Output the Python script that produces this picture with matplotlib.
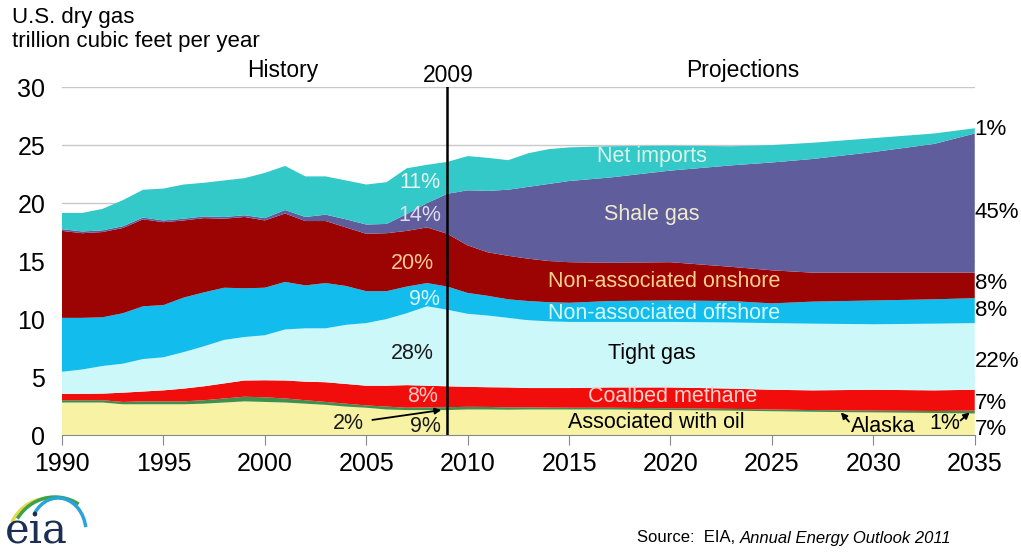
import numpy as np
import matplotlib
matplotlib.use("Agg")
import matplotlib.pyplot as plt
from matplotlib.patches import Arc

plt.rcParams['font.family'] = ['Liberation Sans', 'DejaVu Sans']

# ---------------- data (trillion cubic feet per year) ----------------
years = [1990, 1991, 1992, 1993, 1994, 1995, 1996, 1997, 1998, 1999, 2000,
         2001, 2002, 2003, 2004, 2005, 2006, 2007, 2008, 2009, 2010, 2011,
         2012, 2013, 2014, 2015, 2017, 2020, 2023, 2025, 2027, 2030, 2033, 2035]

assoc_oil = [2.8, 2.8, 2.8, 2.65, 2.65, 2.65, 2.65, 2.7, 2.8, 2.9, 2.85,
             2.8, 2.7, 2.6, 2.45, 2.35, 2.2, 2.15, 2.15, 2.15, 2.2, 2.2,
             2.18, 2.2, 2.2, 2.2, 2.2, 2.15, 2.1, 2.05, 2.0, 1.95, 1.9, 1.85]
alaska = [0.2, 0.2, 0.2, 0.2, 0.25, 0.25, 0.25, 0.3, 0.35, 0.4, 0.4,
          0.35, 0.3, 0.25, 0.25, 0.2, 0.25, 0.2, 0.23, 0.25, 0.23, 0.22,
          0.2, 0.18, 0.16, 0.15, 0.15, 0.15, 0.15, 0.15, 0.15, 0.15, 0.17, 0.25]
coalbed = [0.55, 0.55, 0.57, 0.8, 0.85, 0.95, 1.1, 1.2, 1.3, 1.4, 1.47,
           1.55, 1.6, 1.7, 1.7, 1.7, 1.8, 1.95, 1.87, 1.8, 1.72, 1.7,
           1.72, 1.67, 1.69, 1.7, 1.75, 1.8, 1.75, 1.7, 1.7, 1.8, 1.78, 1.8]
tight = [1.9, 2.1, 2.38, 2.5, 2.8, 2.85, 3.15, 3.45, 3.75, 3.75, 3.88,
         4.4, 4.6, 4.65, 5.1, 5.4, 5.75, 6.2, 6.85, 6.6, 6.3, 6.18,
         6.0, 5.85, 5.75, 5.7, 5.65, 5.65, 5.7, 5.75, 5.75, 5.65, 5.75, 5.75]
offshore = [4.65, 4.45, 4.2, 4.35, 4.55, 4.5, 4.7, 4.65, 4.5, 4.2, 4.1,
            4.1, 3.7, 3.9, 3.35, 2.75, 2.4, 2.3, 2.0, 2.0, 1.8, 1.7,
            1.6, 1.65, 1.65, 1.65, 1.8, 1.85, 1.85, 1.7, 1.9, 2.05, 2.1, 2.15]
onshore = [7.5, 7.3, 7.35, 7.35, 7.5, 7.15, 6.65, 6.4, 5.95, 6.15, 5.8,
           5.9, 5.55, 5.35, 5.05, 4.95, 5.0, 4.8, 4.8, 4.55, 4.1, 3.75,
           3.75, 3.65, 3.55, 3.5, 3.3, 3.3, 2.95, 2.85, 2.5, 2.4, 2.3, 2.2]
shale = [0.15, 0.15, 0.15, 0.15, 0.15, 0.15, 0.15, 0.15, 0.15, 0.15, 0.2,
         0.3, 0.35, 0.55, 0.7, 0.8, 0.8, 1.45, 2.1, 3.45, 4.75, 5.3,
         5.7, 6.2, 6.65, 7.0, 7.35, 7.9, 8.75, 9.3, 9.8, 10.4, 11.1, 12.0]
net_imports = [1.4, 1.6, 1.85, 2.25, 2.4, 2.75, 2.95, 2.9, 3.15, 3.2, 3.9,
               3.8, 3.5, 3.3, 3.35, 3.45, 3.6, 3.95, 3.3, 2.75, 2.95, 2.85,
               2.55, 2.9, 3.0, 2.9, 2.7, 2.15, 1.65, 1.5, 1.4, 1.2, 0.9, 0.45]

colors = ['#f7f2a4', '#3f8f4f', '#f20d0d', '#ccf8fa', '#12bdee',
          '#9c0303', '#605d9c', '#33c9c9']

# ---------------- figure ----------------
fig = plt.figure(figsize=(10.21, 5.54), dpi=100)
ax = fig.add_axes([0.0607, 0.2148, 0.894, 0.628])

for yv in range(5, 31, 5):
    ax.axhline(yv, color='#c8c8c8', lw=1, zorder=0)

ax.stackplot(years, assoc_oil, alaska, coalbed, tight, offshore, onshore,
             shale, net_imports, colors=colors, linewidth=0, zorder=2)

ax.axvline(2009, ymin=0, ymax=1, color='black', lw=1.8, zorder=5)

ax.set_xlim(1990, 2035)
ax.set_ylim(0, 30)
ax.set_xticks(range(1990, 2036, 5))
ax.set_yticks(range(0, 31, 5))
ax.tick_params(axis='x', labelsize=18, length=7, direction='out', color='#888888', pad=5)
ax.tick_params(axis='y', labelsize=18, length=0, pad=12)
for s in ['top', 'right', 'left']:
    ax.spines[s].set_visible(False)
ax.spines['bottom'].set_color('#888888')

fs = 15.5
arrow = dict(arrowstyle='-|>', color='black', lw=1.3, mutation_scale=9,
             shrinkA=0, shrinkB=0)

# layer labels
lab = dict(ha='center', va='center', fontsize=fs, zorder=6)
ax.text(2019.1, 24.0, 'Net imports', color='#d9f3e6', **lab)
ax.text(2019.1, 19.0, 'Shale gas', color='#efeccd', **lab)
ax.text(2019.7, 13.2, 'Non-associated onshore', color='#ffd08c', **lab)
ax.text(2019.7, 10.45, 'Non-associated offshore', color='#d6fbfc', **lab)
ax.text(2019.1, 7.0, 'Tight gas', color='black', **lab)
ax.text(2020.1, 3.3, 'Coalbed methane', color='#ffd0c8', **lab)
ax.text(2019.3, 1.05, 'Associated with oil', color='black', **lab)
ax.text(2030.5, 0.7, 'Alaska', color='black', **lab)
ax.text(2033.5, 0.95, '1%', color='black', **lab)
ax.annotate('', xy=(2028.4, 1.95), xytext=(2028.8, 1.15), arrowprops=arrow, zorder=6)
ax.annotate('', xy=(2034.75, 1.95), xytext=(2034.3, 1.25), arrowprops=arrow, zorder=6)

# 2009 shares
ax.text(2007.65, 21.8, '11%', color='#e8f8f2', **lab)
ax.text(2007.65, 18.9, '14%', color='#dedcee', **lab)
ax.text(2007.3, 14.8, '20%', color='#ffc890', **lab)
ax.text(2007.85, 11.7, '9%', color='#d8f6fb', **lab)
ax.text(2007.25, 7.0, '28%', color='#1a1a1a', **lab)
ax.text(2007.8, 3.3, '8%', color='#ffc8c0', **lab)
ax.text(2007.9, 0.7, '9%', color='#1a1a1a', **lab)
ax.text(2004.1, 1.0, '2%', color='#1a1a1a', **lab)
ax.annotate('', xy=(2008.7, 2.15), xytext=(2005.3, 1.3), arrowprops=arrow, zorder=6)

# 2035 shares
right = [(26.3, '1%'), (19.2, '45%'), (13.1, '8%'), (10.7, '8%'),
         (6.3, '22%'), (2.75, '7%'), (0.45, '7%')]
for yv, t in right:
    ax.text(2035.0, yv, t, ha='left', va='center', fontsize=16, clip_on=False)

# headers
fig.text(12 / 1021, 1 - 18 / 554, 'U.S. dry gas', fontsize=16, va='center')
fig.text(12 / 1021, 1 - 42 / 554, 'trillion cubic feet per year', fontsize=16, va='center')
fig.text(283 / 1021, 1 - 70 / 554, 'History', fontsize=16.5, ha='center', va='center')
fig.text(448 / 1021, 1 - 76 / 554, '2009', fontsize=16.5, ha='center', va='center')
fig.text(743 / 1021, 1 - 70 / 554, 'Projections', fontsize=16.5, ha='center', va='center')

# source
t1 = fig.text(637 / 1021, 1 - 538 / 554, 'Source:  EIA, ', fontsize=12, va='center')
fig.canvas.draw()
bb = t1.get_window_extent()
fig.text(bb.x1 / fig.bbox.width, 1 - 538 / 554, 'Annual Energy Outlook 2011', fontsize=12,
         va='center', style='italic')

# eia logo
fig.text(5 / 1021, 1 - 544 / 554, 'eia', fontsize=30, family='DejaVu Serif',
         color='#1b2f55', va='baseline')
lax = fig.add_axes([0, 0, 1, 1], zorder=-1)
lax.set_xlim(0, 1021)
lax.set_ylim(0, 554)
lax.axis('off')
lax.add_patch(Arc((50, 14), 84, 84, theta1=85, theta2=155, color='#e6d84a', lw=2.5))
lax.add_patch(Arc((55, 9), 90, 96, theta1=60, theta2=145, color='#3aa34a', lw=2.5))
lax.add_patch(Arc((58, 22), 56, 68, theta1=10, theta2=140, color='#2aa3d8', lw=2.5))

fig.savefig('out.png', dpi=100)
